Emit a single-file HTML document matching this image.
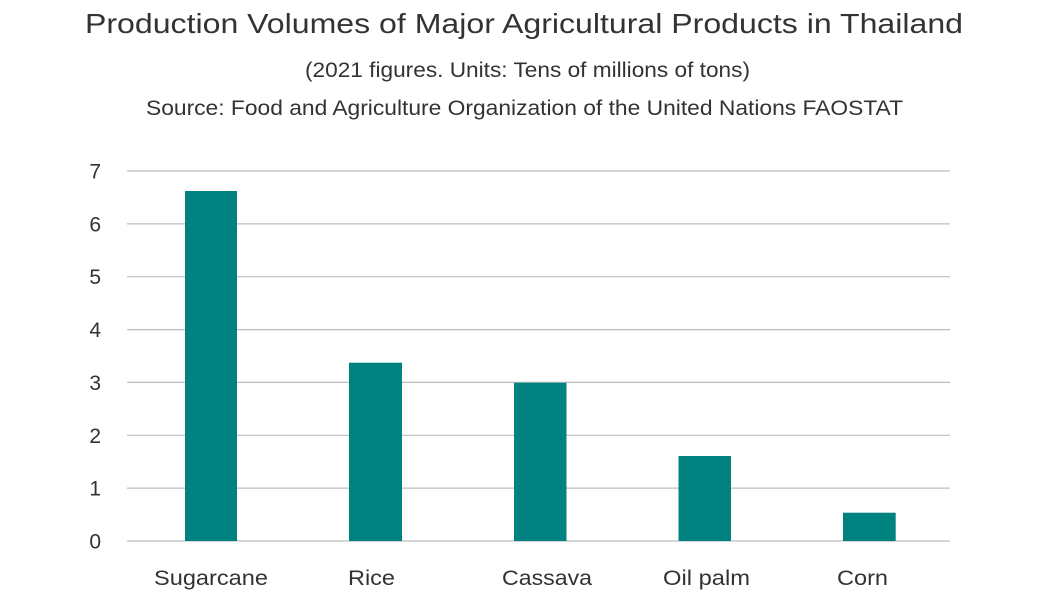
<!DOCTYPE html>
<html>
<head>
<meta charset="utf-8">
<style>
  html, body { margin: 0; padding: 0; background: #ffffff; }
  svg { display: block; }
  text { font-family: "Liberation Sans", Arial, sans-serif; fill: #333333; }
</style>
</head>
<body>
<svg width="1049" height="600" viewBox="0 0 1049 600" xmlns="http://www.w3.org/2000/svg">
  <rect x="0" y="0" width="1049" height="600" fill="#ffffff"/>

  <!-- Titles -->
  <text x="85" y="33" font-size="28" textLength="878" lengthAdjust="spacingAndGlyphs">Production Volumes of Major Agricultural Products in Thailand</text>
  <text x="305" y="77" font-size="21" textLength="445" lengthAdjust="spacingAndGlyphs">(2021 figures. Units: Tens of millions of tons)</text>
  <text x="146" y="115" font-size="21" textLength="757" lengthAdjust="spacingAndGlyphs">Source: Food and Agriculture Organization of the United Nations FAOSTAT</text>

  <!-- Gridlines -->
  <g stroke="#bdbdbd" stroke-width="1.2">
    <line x1="127" y1="171" x2="950" y2="171"/>
    <line x1="127" y1="223.9" x2="950" y2="223.9"/>
    <line x1="127" y1="276.7" x2="950" y2="276.7"/>
    <line x1="127" y1="329.6" x2="950" y2="329.6"/>
    <line x1="127" y1="382.4" x2="950" y2="382.4"/>
    <line x1="127" y1="435.3" x2="950" y2="435.3"/>
    <line x1="127" y1="488.1" x2="950" y2="488.1"/>
    <line x1="127" y1="541" x2="950" y2="541"/>
  </g>

  <!-- Y labels -->
  <g font-size="21" text-anchor="end">
    <text x="101" y="178.5">7</text>
    <text x="101" y="231.4">6</text>
    <text x="101" y="284.2">5</text>
    <text x="101" y="337.1">4</text>
    <text x="101" y="389.9">3</text>
    <text x="101" y="442.8">2</text>
    <text x="101" y="495.6">1</text>
    <text x="101" y="548.5">0</text>
  </g>

  <!-- Bars -->
  <g fill="#008380">
    <rect x="185" y="191" width="52" height="350"/>
    <rect x="349" y="362.7" width="53" height="178.3"/>
    <rect x="514" y="382.7" width="52.5" height="158.3"/>
    <rect x="678.5" y="456" width="52.5" height="85"/>
    <rect x="843" y="512.7" width="52.7" height="28.3"/>
  </g>

  <!-- X labels -->
  <g font-size="21">
    <text x="154" y="585" textLength="114" lengthAdjust="spacingAndGlyphs">Sugarcane</text>
    <text x="348" y="585" textLength="47" lengthAdjust="spacingAndGlyphs">Rice</text>
    <text x="502" y="585" textLength="90" lengthAdjust="spacingAndGlyphs">Cassava</text>
    <text x="663" y="585" textLength="87" lengthAdjust="spacingAndGlyphs">Oil palm</text>
    <text x="837" y="585" textLength="51" lengthAdjust="spacingAndGlyphs">Corn</text>
  </g>
</svg>
</body>
</html>
